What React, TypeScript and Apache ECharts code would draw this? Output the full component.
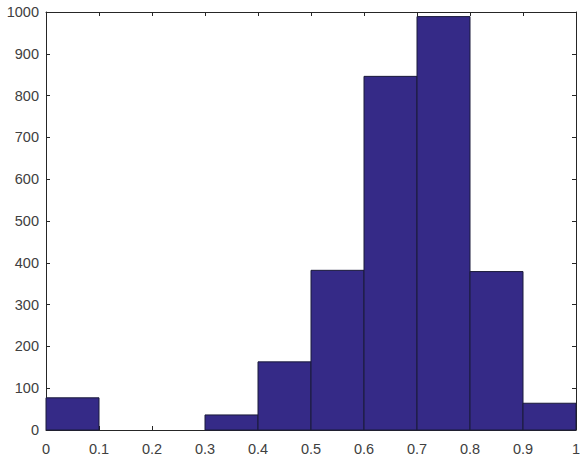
import React, { useEffect, useRef } from "react";
import * as echarts from "echarts";

const binEdges = [0, 0.1, 0.2, 0.3, 0.4, 0.5, 0.6, 0.7, 0.8, 0.9, 1.0];
const counts = [77, 0, 0, 36, 163, 382, 846, 989, 379, 64];
const xTicks = ["0", "0.1", "0.2", "0.3", "0.4", "0.5", "0.6", "0.7", "0.8", "0.9", "1"];
const yMax = 1000;
const yStep = 100;

export default function App() {
  const ref = useRef<HTMLDivElement>(null);
  useEffect(() => {
    if (!ref.current) return;
    const chart = echarts.init(ref.current, undefined, { renderer: "svg" });
    const data = counts.map((c, i) => [binEdges[i], binEdges[i + 1], c]);
    const axisColor = "#262626";
    const labelStyle = { color: "#404040", fontSize: 14.5, fontFamily: "Liberation Sans, Arial, sans-serif" };
    chart.setOption({
      animation: false,
      backgroundColor: "#ffffff",
      grid: { left: 46, top: 12, right: 8, bottom: 31, containLabel: false, show: false },
      xAxis: [
        {
          type: "value",
          min: 0,
          max: 1,
          interval: 0.1,
          axisLine: { show: true, onZero: false, lineStyle: { color: axisColor, width: 1 } },
          axisTick: { show: true, inside: true, length: 4, lineStyle: { color: axisColor } },
          axisLabel: {
            ...labelStyle,
            margin: 11,
            formatter: (v: number) => xTicks[Math.round(v * 10)] ?? "",
          },
          splitLine: { show: false },
        },
        {
          type: "value",
          position: "top",
          min: 0,
          max: 1,
          interval: 0.1,
          axisLine: { show: true, onZero: false, lineStyle: { color: axisColor, width: 1 } },
          axisTick: { show: true, inside: true, length: 4, lineStyle: { color: axisColor } },
          axisLabel: { show: false },
          splitLine: { show: false },
        },
      ],
      yAxis: [
        {
          type: "value",
          min: 0,
          max: yMax,
          interval: yStep,
          axisLine: { show: true, onZero: false, lineStyle: { color: axisColor, width: 1 } },
          axisTick: { show: true, inside: true, length: 4, lineStyle: { color: axisColor } },
          axisLabel: { ...labelStyle, margin: 7, formatter: (v: number) => String(v) },
          splitLine: { show: false },
        },
        {
          type: "value",
          position: "right",
          min: 0,
          max: yMax,
          interval: yStep,
          axisLine: { show: true, onZero: false, lineStyle: { color: axisColor, width: 1 } },
          axisTick: { show: true, inside: true, length: 4, lineStyle: { color: axisColor } },
          axisLabel: { show: false },
          splitLine: { show: false },
        },
      ],
      series: [
        {
          type: "custom",
          xAxisIndex: 0,
          yAxisIndex: 0,
          data,
          encode: { x: [0, 1], y: 2 },
          renderItem: (params: any, api: any) => {
            const x0 = api.value(0);
            const x1 = api.value(1);
            const y = api.value(2);
            if (!y) return null;
            const p0 = api.coord([x0, y]);
            const p1 = api.coord([x1, 0]);
            return {
              type: "rect",
              shape: { x: p0[0], y: p0[1], width: p1[0] - p0[0], height: p1[1] - p0[1] },
              style: { fill: "#352a87", stroke: "#1a1a3a", lineWidth: 1 },
            };
          },
        },
      ],
    });
    return () => chart.dispose();
  }, []);
  return (
    <div
      ref={ref}
      style={{ position: "fixed", left: 0, top: 0, width: 584, height: 461, background: "#fff" }}
    />
  );
}
